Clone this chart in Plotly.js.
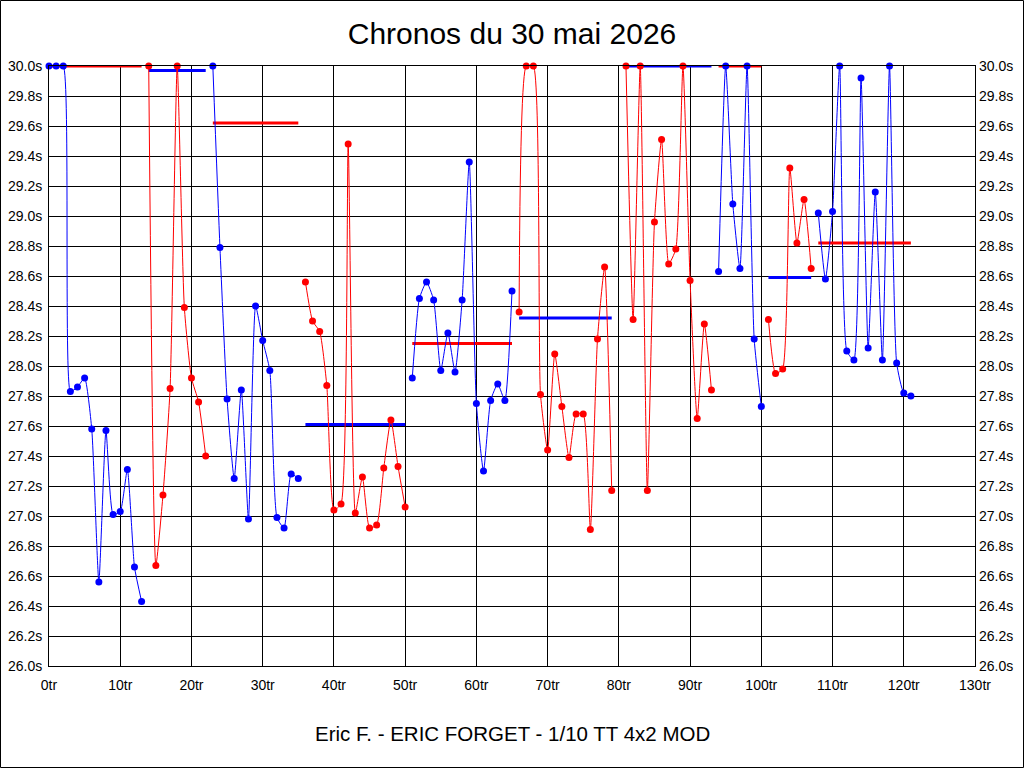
<!DOCTYPE html>
<html>
<head>
<meta charset="utf-8">
<script src="https://cdn.plot.ly/plotly-3.0.1.min.js"></script>
<style>
  html, body { margin: 0; padding: 0; background: #fff; }
  #graphDiv { width: 1024px; height: 768px; }
</style>
</head>
<body>
<div id="graphDiv"></div>
<script>
// temps au tour (s), index = numero du tour, null = tour non chronometre
const lapTimes = [
  30.0, 30.0, 30.0, 27.83, 27.86, 27.92, 27.58, 26.56, 27.57, 27.01,
  27.03, 27.31, 26.66, 26.43, 30.0, 26.67, 27.14, 27.85, 30.0, 28.39,
  27.92, 27.76, 27.40, 30.0, 28.79, 27.78, 27.25, 27.84, 26.98, 28.40,
  28.17, 27.97, 26.99, 26.92, 27.28, 27.25, 28.56, 28.30, 28.23, 27.87,
  27.04, 27.08, 29.48, 27.02, 27.26, 26.92, 26.94, 27.32, 27.64, 27.33,
  27.06, 27.92, 28.45, 28.56, 28.44, 27.97, 28.22, 27.96, 28.44, 29.36,
  27.75, 27.30, 27.77, 27.88, 27.77, 28.50, 28.36, 30.0, 30.0, 27.81,
  27.44, 28.08, 27.73, 27.39, 27.68, 27.68, 26.91, 28.18, 28.66, 27.17,
  null, 30.0, 28.31, 30.0, 27.17, 28.96, 29.51, 28.68, 28.78, 30.0,
  28.57, 27.65, 28.28, 27.84, 28.63, 30.0, 29.08, 28.65, 30.0, 28.18,
  27.73, 28.31, 27.95, 27.98, 29.32, 28.82, 29.11, 28.65, 29.02, 28.58,
  29.03, 30.0, 28.10, 28.04, 29.92, 28.12, 29.16, 28.04, 30.0, 28.02,
  27.82, 27.80
];

// relais : premier et dernier tour de chaque serie, et temps de reference
const segFirst = [0, 14, 23, 36, 51, 66, 80, 81, 94, 101, 108];
const segLast  = [13, 22, 35, 50, 65, 79, 80, 93, 100, 107, 121];
const segRef   = [30.0, 29.97, 29.62, 27.61, 28.15, 28.32, null, 30.0, 30.0, 28.59, 28.82];

const xTicks = [0, 10, 20, 30, 40, 50, 60, 70, 80, 90, 100, 110, 120, 130];
const xTickText = ['0tr', '10tr', '20tr', '30tr', '40tr', '50tr', '60tr', '70tr',
                   '80tr', '90tr', '100tr', '110tr', '120tr', '130tr'];
const yTicks = [26.0, 26.2, 26.4, 26.6, 26.8, 27.0, 27.2, 27.4, 27.6, 27.8,
                28.0, 28.2, 28.4, 28.6, 28.8, 29.0, 29.2, 29.4, 29.6, 29.8, 30.0];
const yTickText = ['26.0s', '26.2s', '26.4s', '26.6s', '26.8s', '27.0s', '27.2s',
                   '27.4s', '27.6s', '27.8s', '28.0s', '28.2s', '28.4s', '28.6s',
                   '28.8s', '29.0s', '29.2s', '29.4s', '29.6s', '29.8s', '30.0s'];

const BLUE = '#0000ff';
const RED = '#ff0000';

drawGraph();

function drawGraph(){
  const refTraces = [];
  const lineTraces = [];
  const dotTraces = [];

  for (let s = 0; s < segFirst.length; s++) {
    const col = (s % 2 === 0) ? BLUE : RED;
    const other = (s % 2 === 0) ? RED : BLUE;
    const xs = [], ys = [];
    for (let i = segFirst[s]; i <= segLast[s]; i++) {
      if (lapTimes[i] === null) continue;
      xs.push(i);
      ys.push(lapTimes[i]);
    }
    if (!xs.length) continue;

    // ligne de reference du relais (couleur inverse)
    refTraces.push({
      x: [segFirst[s], segLast[s]],
      y: [segRef[s], segRef[s]],
      mode: 'lines',
      type: 'scatter',
      line: {color: other, width: 3},
      hoverinfo: 'skip',
      showlegend: false,
      cliponaxis: false,
      xaxis: 'x', yaxis: 'y'
    });

    lineTraces.push({
      x: xs,
      y: ys,
      mode: 'lines',
      type: 'scatter',
      line: {color: col, width: 1, shape: 'spline', smoothing: 0.5},
      showlegend: false,
      cliponaxis: true,
      xaxis: 'x', yaxis: 'y2'
    });

    dotTraces.push({
      x: xs,
      y: ys,
      mode: 'markers',
      type: 'scatter',
      marker: {color: col, size: 7},
      showlegend: false,
      cliponaxis: false,
      xaxis: 'x', yaxis: 'y2'
    });
  }

  const font = {family: 'Liberation Sans, Arial, sans-serif', color: '#000'};
  const yCommon = {
    range: [26, 30],
    tickmode: 'array',
    tickvals: yTicks,
    ticktext: yTickText,
    tickfont: Object.assign({size: 14}, font),
    ticks: '',
    zeroline: false,
    fixedrange: true
  };

  const layout = {
    width: 1024,
    height: 768,
    paper_bgcolor: '#fff',
    plot_bgcolor: '#fff',
    margin: {l: 49, r: 49, t: 66, b: 102, autoexpand: false},
    font: font,
    title: {
      text: 'Chronos du 30 mai 2026',
      font: Object.assign({size: 30}, font),
      x: 0.5, xanchor: 'center',
      y: 1 - 33 / 768, yanchor: 'middle'
    },
    xaxis: {
      range: [0, 130],
      tickmode: 'array',
      tickvals: xTicks,
      ticktext: xTickText,
      tickfont: Object.assign({size: 14}, font),
      ticks: '',
      ticklabelstandoff: 6,
      showgrid: true,
      gridcolor: '#000',
      gridwidth: 1,
      showline: true,
      linecolor: '#000',
      linewidth: 1,
      mirror: true,
      zeroline: false,
      fixedrange: true
    },
    yaxis: Object.assign({}, yCommon, {
      side: 'left',
      showgrid: true,
      gridcolor: '#000',
      gridwidth: 1,
      showline: true,
      linecolor: '#000',
      linewidth: 1,
      mirror: true,
      ticklabelstandoff: 3
    }),
    yaxis2: Object.assign({}, yCommon, {
      overlaying: 'y',
      side: 'right',
      showgrid: false,
      showline: false,
      ticklabelstandoff: 3
    }),
    annotations: [{
      text: 'Eric F. - ERIC FORGET - 1/10 TT 4x2 MOD',
      xref: 'paper', yref: 'paper',
      x: 0.5, y: -(733 - 666) / 600,
      xanchor: 'center', yanchor: 'middle',
      showarrow: false,
      font: Object.assign({size: 20.5}, font)
    }],
    shapes: [{
      type: 'rect',
      xref: 'paper', yref: 'paper',
      x0: -48.5 / 926, x1: 1 + 48.5 / 926,
      y0: -101.5 / 600, y1: 1 + 65.5 / 600,
      line: {color: '#000', width: 1},
      layer: 'above'
    }]
  };

  Plotly.newPlot('graphDiv', refTraces.concat(lineTraces, dotTraces), layout, {staticPlot: true});
}
</script>
</body>
</html>
